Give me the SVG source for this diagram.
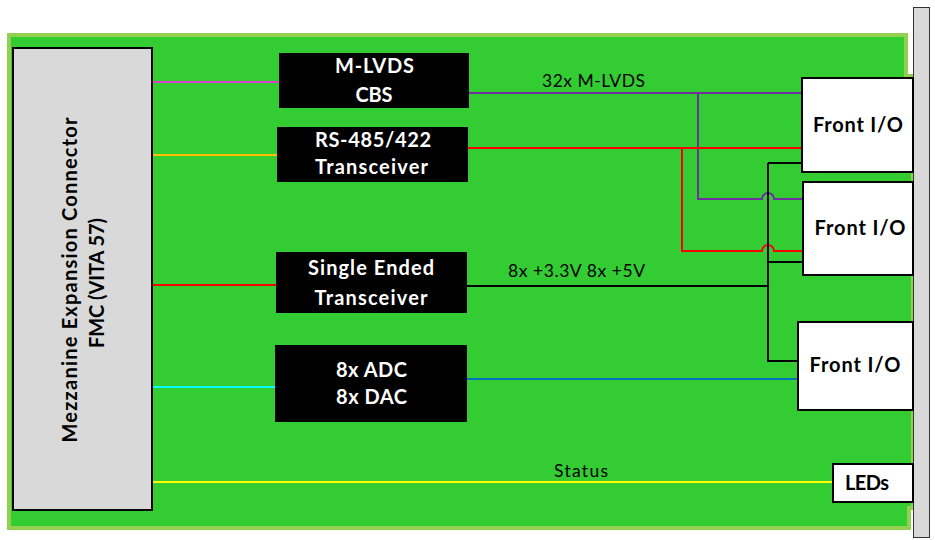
<svg xmlns="http://www.w3.org/2000/svg" width="935" height="540" viewBox="0 0 935 540">
<style>
.t{font-family:Lato,"Open Sans","Liberation Sans",sans-serif}
.bw{font-weight:bold;fill:#fff;font-size:20px;text-anchor:middle}
.bb{font-weight:bold;fill:#000;font-size:20px;text-anchor:middle}
.lb{fill:#000;font-size:17.5px}
.blk{fill:#000}
.io{fill:#fff;stroke:#000;stroke-width:2}
.w{fill:none;stroke-width:2}
</style>
<rect x="0" y="0" width="935" height="540" fill="#fff"/>
<path id="board" d="M9,35 H906 V76 H913 V508 H909 V528 H9 Z" fill="#33cc33" stroke="#92d050" stroke-width="4"/>
<rect id="panel" x="913.5" y="7.5" width="16" height="530" fill="#d9d9d9" stroke="#333" stroke-width="1"/>
<g id="connectors">
<path class="w" stroke="#e040d0" d="M152,82 H279"/>
<path class="w" stroke="#ffc000" d="M152,155 H277"/>
<path class="w" stroke="#ff0000" d="M152,285 H276"/>
<path class="w" stroke="#00ffff" d="M152,387 H275"/>
<path class="w" stroke="#ffff00" stroke-width="3" d="M152,482 H833"/>
<path class="w" stroke="#7030a0" d="M469,93 H802 M698,93 V199 H762 A6,6 0 0 1 774,199 H803"/>
<path class="w" stroke="#ff0000" stroke-width="2.5" d="M468,148 H802 M682,148 V251 H762 A6,6 0 0 1 774,251 H803"/>
<path class="w" stroke="#000" d="M467,286 H768 M768,163 V361 H798 M768,163 H802 M768,262 H803"/>
<path class="w" stroke="#0070c0" stroke-width="2.5" d="M467,379 H798"/>
<text class="t lb" x="542" y="87" textLength="103">32x M-LVDS</text>
<text class="t lb" x="508" y="277" textLength="137">8x +3.3V 8x +5V</text>
<text class="t lb" x="554" y="477" textLength="54">Status</text>
</g>
<g id="fmc">
<rect x="13" y="48" width="139" height="462" fill="#d9d9d9" stroke="#000" stroke-width="2"/>
<text class="t bb" transform="translate(77,280) rotate(-90)" textLength="325">Mezzanine Expansion Connector</text>
<text class="t bb" transform="translate(104,283) rotate(-90)" textLength="130">FMC (VITA 57)</text>
</g>
<g id="mlvds">
<rect class="blk" x="279" y="53" width="190" height="55"/>
<text class="t bw" x="374.5" y="73" textLength="79">M-LVDS</text>
<text class="t bw" x="374" y="102" textLength="37">CBS</text>
</g>
<g id="rs485">
<rect class="blk" x="277" y="127" width="191" height="55"/>
<text class="t bw" x="373" y="147" textLength="116">RS-485/422</text>
<text class="t bw" x="371.5" y="174" textLength="113">Transceiver</text>
</g>
<g id="single">
<rect class="blk" x="276" y="252" width="191" height="61"/>
<text class="t bw" x="371" y="275" textLength="126">Single Ended</text>
<text class="t bw" x="371" y="305" textLength="113">Transceiver</text>
</g>
<g id="adcdac">
<rect class="blk" x="275" y="345" width="192" height="77"/>
<text class="t bw" x="371.5" y="377" textLength="71">8x ADC</text>
<text class="t bw" x="371.5" y="404" textLength="71">8x DAC</text>
</g>
<g id="io1">
<rect class="io" x="802" y="78" width="111" height="94"/>
<text class="t bb" x="858" y="132" textLength="90">Front I/O</text>
</g>
<g id="io2">
<rect class="io" x="803" y="182" width="110" height="93"/>
<text class="t bb" x="860" y="235" textLength="91">Front I/O</text>
</g>
<g id="io3">
<rect class="io" x="798" y="322" width="115" height="88"/>
<text class="t bb" x="855" y="372" textLength="91">Front I/O</text>
</g>
<g id="leds">
<rect class="io" x="833" y="464" width="80" height="38"/>
<text class="t bb" x="867" y="490" textLength="44">LEDs</text>
</g>
</svg>
